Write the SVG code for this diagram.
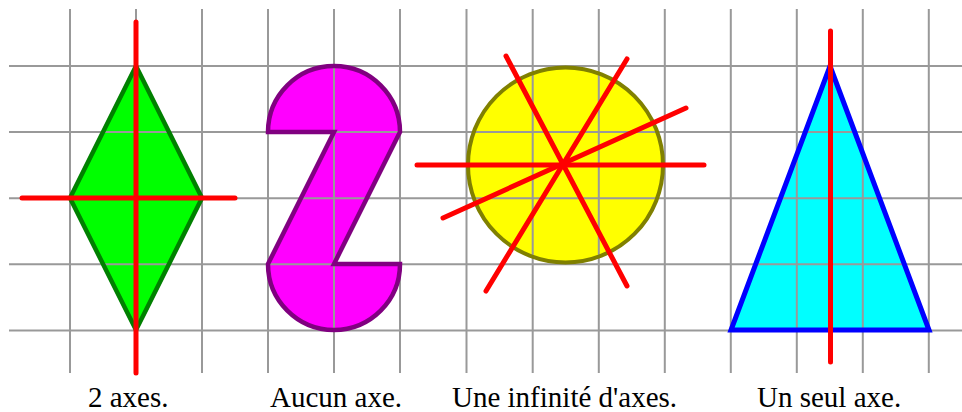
<svg xmlns="http://www.w3.org/2000/svg" width="962" height="412" viewBox="0 0 962 412">
<style>
.grid line{stroke:#999999;stroke-width:2}
.axe{stroke:#ff0000;stroke-width:5;stroke-linecap:round;fill:none}
.lbl{font-family:"Liberation Serif","Times New Roman",serif;font-size:29px;fill:#000}
</style>
<rect width="962" height="412" fill="#ffffff"/>
<g id="fills">
<polygon points="136,66 202,198 136,330 70,198" fill="#00ff00"/>
<path d="M268,132 L334,132 L268,264 A66,66 0 0 0 400,264 L334,264 L400,132 A66,66 0 0 0 268,132 Z" fill="#ff00ff"/>
<circle cx="565.5" cy="165" r="97.5" fill="#ffff00"/>
<polygon points="830,66 929,330 731,330" fill="#00ffff"/>
</g>
<g id="grid" class="grid">
<line x1="70" y1="9" x2="70" y2="373"/>
<line x1="136" y1="9" x2="136" y2="373"/>
<line x1="202" y1="9" x2="202" y2="373"/>
<line x1="268" y1="9" x2="268" y2="373"/>
<line x1="334" y1="9" x2="334" y2="373"/>
<line x1="400" y1="9" x2="400" y2="373"/>
<line x1="466.5" y1="9" x2="466.5" y2="373"/>
<line x1="532.7" y1="9" x2="532.7" y2="373"/>
<line x1="598.8" y1="9" x2="598.8" y2="373"/>
<line x1="664.8" y1="9" x2="664.8" y2="373"/>
<line x1="730.8" y1="9" x2="730.8" y2="373"/>
<line x1="796.8" y1="9" x2="796.8" y2="373"/>
<line x1="862.8" y1="9" x2="862.8" y2="373"/>
<line x1="928.8" y1="9" x2="928.8" y2="373"/>
<line x1="9" y1="66" x2="962" y2="66"/>
<line x1="9" y1="132.1" x2="962" y2="132.1"/>
<line x1="9" y1="198.2" x2="962" y2="198.2"/>
<line x1="9" y1="264.3" x2="962" y2="264.3"/>
<line x1="9" y1="330.4" x2="962" y2="330.4"/>
</g>
<g id="losange">
<polygon points="136,66 202,198 136,330 70,198" fill="none" stroke="#008000" stroke-width="4.5" stroke-linejoin="miter"/>
<line class="axe" x1="136" y1="22" x2="136" y2="373"/>
<line class="axe" x1="22" y1="198" x2="235" y2="198"/>
</g>
<g id="deux">
<path d="M268,132 L334,132 L268,264 A66,66 0 0 0 400,264 L334,264 L400,132 A66,66 0 0 0 268,132 Z" fill="none" stroke="#800080" stroke-width="4.5"/>
</g>
<g id="cercle">
<circle cx="565.5" cy="165" r="97.5" fill="none" stroke="#808000" stroke-width="4"/>
<line class="axe" x1="417" y1="165" x2="704" y2="165"/>
<line class="axe" x1="506" y1="56" x2="627" y2="286"/>
<line class="axe" x1="627" y1="59" x2="486" y2="291"/>
<line class="axe" x1="686" y1="108" x2="443" y2="218"/>
</g>
<g id="triangle">
<polygon points="830,66 929,330 731,330" fill="none" stroke="#0000ff" stroke-width="5" stroke-linejoin="miter"/>
<line class="axe" x1="830.5" y1="31" x2="830.5" y2="362"/>
</g>
<g id="labels">
<text class="lbl" x="88" y="407">2 axes.</text>
<text class="lbl" x="270" y="407">Aucun axe.</text>
<text class="lbl" x="452" y="407">Une infinité d'axes.</text>
<text class="lbl" x="757" y="407">Un seul axe.</text>
</g>
</svg>
